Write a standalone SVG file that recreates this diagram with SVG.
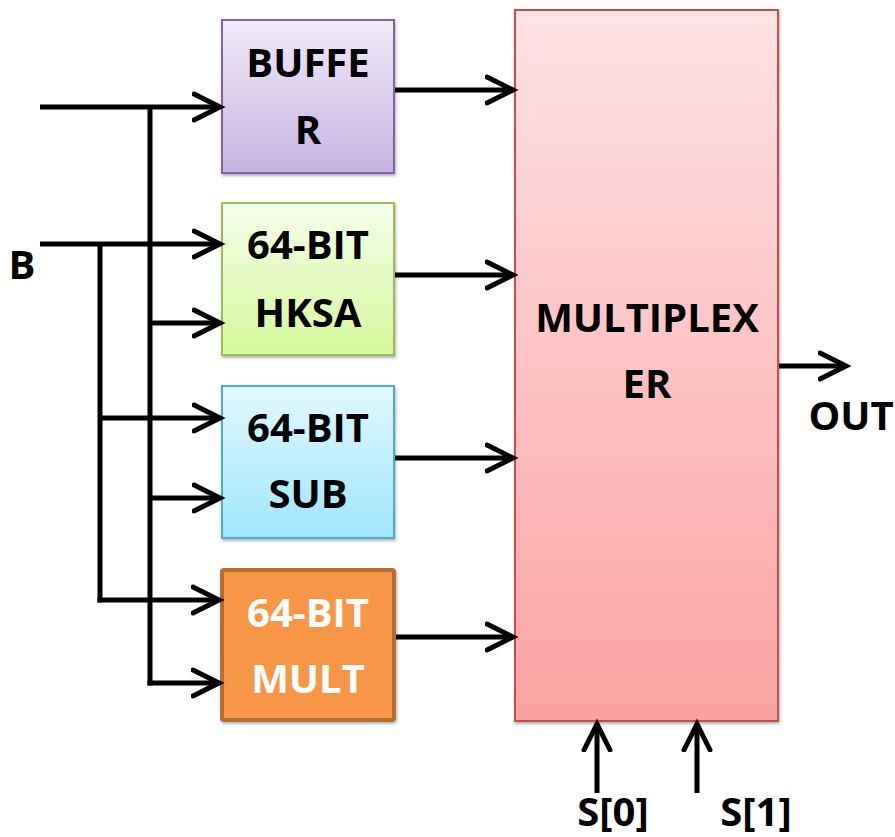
<svg xmlns="http://www.w3.org/2000/svg" width="895" height="837" viewBox="0 0 895 837">
<style>
.t{font-family:"Open Sans","Liberation Sans",sans-serif;font-weight:700;font-size:40px;fill:#000;text-anchor:middle}
.w{fill:#fff}
.ln{fill:none;stroke:#000;stroke-width:5}
.ar{marker-end:url(#arr)}
</style>
<defs>
<marker id="arr" markerUnits="userSpaceOnUse" markerWidth="40" markerHeight="40" viewBox="0 0 40 40" refX="28" refY="20" orient="auto">
<path d="M 2 7 L 28 20 L 2 33" fill="none" stroke="#000" stroke-width="5" stroke-linecap="round" stroke-linejoin="miter"/>
</marker>
<linearGradient id="gp" x1="0" y1="0" x2="0" y2="1"><stop offset="0" stop-color="#f0eaf8"/><stop offset="1" stop-color="#c7b3e1"/></linearGradient>
<linearGradient id="gg" x1="0" y1="0" x2="0" y2="1"><stop offset="0" stop-color="#f4fdea"/><stop offset="1" stop-color="#d6f99c"/></linearGradient>
<linearGradient id="gb" x1="0" y1="0" x2="0" y2="1"><stop offset="0" stop-color="#e2f8fe"/><stop offset="1" stop-color="#9fe5fb"/></linearGradient>
<linearGradient id="gr" x1="0" y1="0" x2="0" y2="1"><stop offset="0" stop-color="#fee3e5"/><stop offset="1" stop-color="#fba2a2"/></linearGradient>
<filter id="sh" x="-10%" y="-10%" width="120%" height="120%"><feDropShadow dx="1" dy="2" stdDeviation="1.5" flood-color="#000" flood-opacity="0.3"/></filter>
</defs>
<g id="buffer"><rect x="222" y="20" width="172" height="153" fill="url(#gp)" stroke="#8064a2" stroke-width="2" filter="url(#sh)"/><text class="t" x="308" y="77">BUFFE</text><text class="t" x="308" y="144">R</text></g>
<g id="hksa"><rect x="222" y="203" width="172" height="152" fill="url(#gg)" stroke="#9bbb59" stroke-width="2" filter="url(#sh)"/><text class="t" x="308" y="259">64-BIT</text><text class="t" x="308" y="327">HKSA</text></g>
<g id="sub"><rect x="222" y="386" width="172" height="152" fill="url(#gb)" stroke="#4bacc6" stroke-width="2" filter="url(#sh)"/><text class="t" x="308" y="442">64-BIT</text><text class="t" x="308" y="508">SUB</text></g>
<g id="mult"><rect x="222" y="570" width="172" height="150" fill="#f79646" stroke="#b66d31" stroke-width="4" rx="2" filter="url(#sh)"/><text class="t w" x="308" y="627">64-BIT</text><text class="t w" x="308" y="693">MULT</text></g>
<g id="mux"><rect x="515" y="10" width="263" height="711" fill="url(#gr)" stroke="#c0504d" stroke-width="2" filter="url(#sh)"/><text class="t" x="647" y="332">MULTIPLEX</text><text class="t" x="647" y="398">ER</text></g>
<g id="labels"><text class="t" x="22" y="279">B</text><text class="t" x="851" y="430">OUT</text><text class="t" x="613" y="826">S[0]</text><text class="t" x="756" y="826">S[1]</text></g>
<g id="connectors">
<path class="ln ar" d="M 40 107 L 220 107"/>
<path class="ln" d="M 150 107 L 150 685.5"/>
<path class="ln ar" d="M 40 244 L 220 244"/>
<path class="ln" d="M 100 244 L 100 602.5"/>
<path class="ln ar" d="M 150 323 L 220 323"/>
<path class="ln ar" d="M 100 418 L 220 418"/>
<path class="ln ar" d="M 150 498 L 220 498"/>
<path class="ln ar" d="M 97.5 600 L 219 600"/>
<path class="ln ar" d="M 147.5 683 L 219 683"/>
<path class="ln ar" d="M 395 90 L 513 90"/>
<path class="ln ar" d="M 395 275 L 513 275"/>
<path class="ln ar" d="M 395 458 L 513 458"/>
<path class="ln ar" d="M 396 637 L 513 637"/>
<path class="ln ar" d="M 779 366 L 846 366"/>
<path class="ln ar" d="M 597 793 L 597 724"/>
<path class="ln ar" d="M 697 793 L 697 724"/>
</g>
</svg>
